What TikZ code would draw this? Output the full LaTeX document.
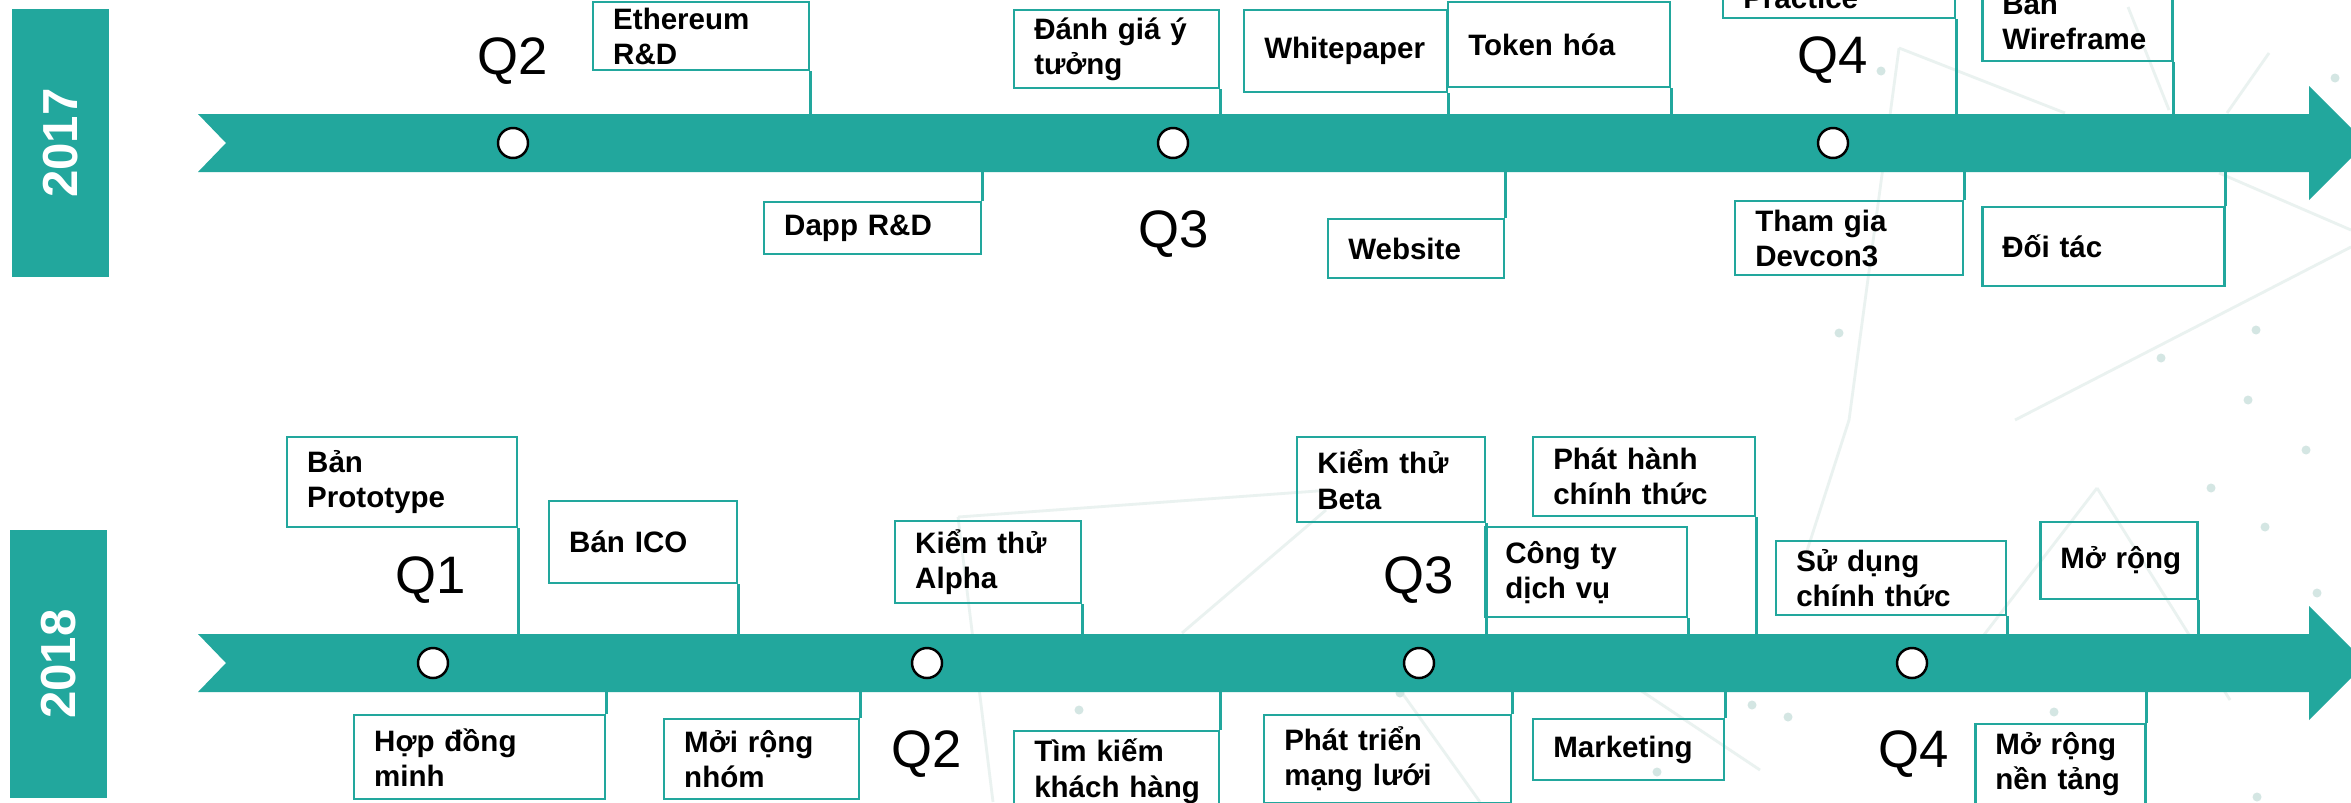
\documentclass[tikz,border=0pt]{standalone}
\usepackage{fontspec}
\setmainfont{Liberation Sans}
\definecolor{roadteal}{RGB}{34,167,157}
\definecolor{meshgray}{RGB}{234,242,240}
\definecolor{meshdot}{RGB}{212,230,227}

\begin{document}
\begin{tikzpicture}[
  task/.style={draw=roadteal, line width=0.7pt, anchor=north west, align=left,
    inner xsep=0.2cm, inner ysep=0pt, font=\bfseries\fontsize{8.4}{10}\selectfont},
  link/.style={draw=roadteal, line width=0.7pt},
  dot/.style={circle, draw=black, fill=white, line width=0.7pt, minimum size=0.3cm, inner sep=0pt},
  quarter/.style={anchor=base, font=\fontsize{15}{18}\selectfont},
  yearbar/.style={fill=roadteal, text=white, rotate=90, minimum width=2.68cm,
    minimum height=0.97cm, inner sep=0pt, font=\bfseries\fontsize{14}{16}\selectfont},
  mesh/.style={meshgray, line width=0.8pt},
  meshnode/.style={meshdot},
]
\useasboundingbox (0,0) rectangle (23.51,-8.02);
\fill[white] (0,0) rectangle (23.51,-8.02);

% faint network in the background
\draw[mesh] (9.58,-5.17) -- (13.31,-4.90);
\draw[mesh] (11.82,-6.33) -- (13.26,-5.10);
\draw[mesh] (9.58,-5.17) -- (9.93,-8.02);
\draw[mesh] (18.99,-0.48) -- (18.49,-4.20) -- (18.04,-5.60);
\draw[mesh] (18.99,-0.48) -- (20.65,-1.13);
\draw[mesh] (21.28,-0.07) -- (21.69,-1.10);
\draw[mesh] (22.69,-0.53) -- (22.27,-1.13);
\draw[mesh] (22.19,-1.73) -- (23.51,-2.30);
\draw[mesh] (23.51,-2.47) -- (20.15,-4.20);
\draw[mesh] (20.97,-4.88) -- (19.80,-6.40);
\draw[mesh] (20.97,-4.88) -- (22.30,-7.00);
\draw[mesh] (14.00,-6.90) -- (14.80,-8.02);
\draw[mesh] (16.40,-6.90) -- (17.60,-7.70);
\foreach \p in {(18.81,-0.71),(18.39,-3.33),(22.56,-3.30),(21.61,-3.58),(22.48,-4.00),
  (23.35,-0.78),(22.11,-4.88),(22.65,-5.27),(23.06,-4.50),(23.17,-5.93),(17.88,-7.17),
  (17.52,-7.05),(16.57,-7.72),(20.54,-7.12),(10.79,-7.10),(14.00,-6.93),(22.57,-7.97)}
  \fill[meshnode] \p circle (0.045);

% year bars
\node[yearbar] (y17) at (0.605,-1.43) {2017};
\node[yearbar] (y18) at (0.585,-6.64) {2018};

% timeline arrows
\fill[roadteal] (1.98,-1.14) -- (23.09,-1.14) -- (23.09,-0.86) -- (23.66,-1.43)
  -- (23.09,-2.00) -- (23.09,-1.72) -- (1.98,-1.72) -- (2.26,-1.43) -- cycle;
\fill[roadteal] (1.98,-6.34) -- (23.09,-6.34) -- (23.09,-6.06) -- (23.66,-6.63)
  -- (23.09,-7.20) -- (23.09,-6.92) -- (1.98,-6.92) -- (2.26,-6.63) -- cycle;
\coordinate (top17) at (0,-1.14);
\coordinate (bot17) at (0,-1.72);
\coordinate (top18) at (0,-6.34);
\coordinate (bot18) at (0,-6.92);

% 2017 quarters
\node[dot] (c17b) at (5.13,-1.43) {};
\node[dot] (c17c) at (11.73,-1.43) {};
\node[dot] (c17d) at (18.33,-1.43) {};
\node[quarter] (q17b) at (5.13,-0.74) {Q2};
\node[quarter] (q17c) at (11.74,-2.47) {Q3};
\node[quarter] (q17d) at (18.33,-0.73) {Q4};

% 2017 tasks
\node[task, text width=1.76cm, minimum height=0.68cm] (eth) at (5.92,-0.01) {Ethereum\\R\&D};
\node[task, text width=1.65cm, minimum height=0.78cm] (idea) at (10.13,-0.09) {Đánh~giá~ý\\tưởng};
\node[task, text width=1.63cm, minimum height=0.82cm] (paper) at (12.43,-0.09) {Whitepaper};
\node[task, text width=1.82cm, minimum height=0.85cm] (token) at (14.47,-0.01) {Token~hóa};
\node[task, text width=1.92cm, minimum height=0.75cm] (practice) at (17.22,0.58) {\vphantom{Th}\\Practice};
\node[task, text width=1.50cm, minimum height=0.80cm] (frame) at (19.81,0.20) {Bản\\Wireframe};
\node[task, text width=1.77cm, minimum height=0.52cm] (dapp) at (7.63,-2.01) {Dapp~R\&D};
\node[task, text width=1.36cm, minimum height=0.59cm] (web) at (13.27,-2.18) {Website};
\node[task, text width=1.88cm, minimum height=0.74cm] (devcon) at (17.34,-2.00) {Tham~gia\\Devcon3};
\node[task, text width=2.02cm, minimum height=0.79cm] (partner) at (19.81,-2.06) {Đối~tác};

\draw[link] (eth.south east) -- (eth.south east |- top17);
\draw[link] (idea.south east) -- (idea.south east |- top17);
\draw[link] (paper.south east) -- (paper.south east |- top17);
\draw[link] (token.south east) -- (token.south east |- top17);
\draw[link] (practice.south east) -- (practice.south east |- top17);
\draw[link] (frame.south east) -- (frame.south east |- top17);
\draw[link] (dapp.north east) -- (dapp.north east |- bot17);
\draw[link] (web.north east) -- (web.north east |- bot17);
\draw[link] (devcon.north east) -- (devcon.north east |- bot17);
\draw[link] (partner.north east) -- (partner.north east |- bot17);

% 2018 quarters
\node[dot] (c18a) at (4.33,-6.63) {};
\node[dot] (c18b) at (9.27,-6.63) {};
\node[dot] (c18c) at (14.19,-6.63) {};
\node[dot] (c18d) at (19.12,-6.63) {};
\node[quarter] (q18a) at (4.31,-5.93) {Q1};
\node[quarter] (q18b) at (9.27,-7.67) {Q2};
\node[quarter] (q18c) at (14.19,-5.93) {Q3};
\node[quarter] (q18d) at (19.14,-7.67) {Q4};

% 2018 tasks
\node[task, text width=1.90cm, minimum height=0.90cm] (proto) at (2.86,-4.36) {Bản\\Prototype};
\node[task, text width=1.48cm, minimum height=0.82cm] (ico) at (5.48,-5.00) {Bán~ICO};
\node[task, text width=1.46cm, minimum height=0.82cm] (alpha) at (8.94,-5.20) {Kiểm~thử\\Alpha};
\node[task, text width=1.48cm, minimum height=0.85cm] (beta) at (12.96,-4.36) {Kiểm~thử\\Beta};
\node[task, text width=1.62cm, minimum height=0.90cm] (service) at (14.84,-5.26) {Công~ty\\dịch~vụ};
\node[task, text width=1.82cm, minimum height=0.79cm] (release) at (15.32,-4.36) {Phát~hành\\chính~thức};
\node[task, text width=1.90cm, minimum height=0.74cm] (launch) at (17.75,-5.40) {Sử~dụng\\chính~thức};
\node[task, text width=1.17cm, minimum height=0.77cm] (grow) at (20.39,-5.21) {Mở~rộng};
\node[task, text width=2.11cm, minimum height=0.84cm] (contract) at (3.53,-7.14) {Hợp~đồng\\minh};
\node[task, text width=1.55cm, minimum height=0.80cm] (team) at (6.63,-7.18) {Mởi~rộng\\nhóm};
\node[task, text width=1.65cm, minimum height=0.80cm] (client) at (10.13,-7.30) {Tìm~kiếm\\khách~hàng};
\node[task, text width=2.07cm, minimum height=0.88cm] (network) at (12.63,-7.14) {Phát~triển\\mạng~lưới};
\node[task, text width=1.51cm, minimum height=0.61cm] (market) at (15.32,-7.18) {Marketing};
\node[task, text width=1.30cm, minimum height=0.80cm] (platform) at (19.74,-7.23) {Mở~rộng\\nền~tảng};

\draw[link] (proto.south east) -- (proto.south east |- top18);
\draw[link] (ico.south east) -- (ico.south east |- top18);
\draw[link] (alpha.south east) -- (alpha.south east |- top18);
\draw[link] (beta.south east) -- (beta.south east |- top18);
\draw[link] (service.south east) -- (service.south east |- top18);
\draw[link] (release.south east) -- (release.south east |- top18);
\draw[link] (launch.south east) -- (launch.south east |- top18);
\draw[link] (grow.south east) -- (grow.south east |- top18);
\draw[link] (contract.north east) -- (contract.north east |- bot18);
\draw[link] (team.north east) -- (team.north east |- bot18);
\draw[link] (client.north east) -- (client.north east |- bot18);
\draw[link] (network.north east) -- (network.north east |- bot18);
\draw[link] (market.north east) -- (market.north east |- bot18);
\draw[link] (platform.north east) -- (platform.north east |- bot18);

\end{tikzpicture}
\end{document}
